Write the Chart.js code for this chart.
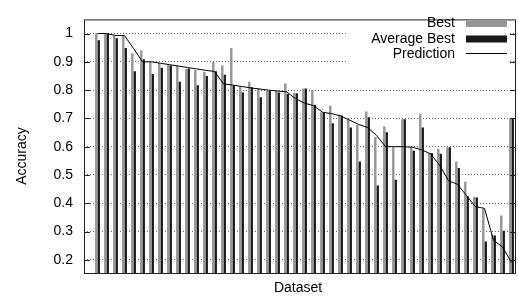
<!DOCTYPE html>
<html>
<head>
<meta charset="utf-8">
<script src="https://cdn.jsdelivr.net/npm/chart.js@4.4.1/dist/chart.umd.min.js"></script>
<style>
  body { margin: 0; background: #fff; }
  #wrap { width: 518px; height: 297px; }
</style>
</head>
<body>
<div id="wrap"><canvas id="myChart" width="518" height="297"></canvas></div>
<script>
// 47 datasets, no names on the x axis
const categories = Array.from({ length: 47 }, (_, i) => 'D' + (i + 1));

const best = [1.0, 1.0, 0.993, 0.993, 0.93, 0.94, 0.90, 0.896, 0.89, 0.887,
    0.875, 0.871, 0.865, 0.899, 0.887, 0.949, 0.813, 0.83, 0.806, 0.797,
    0.80, 0.823, 0.789, 0.806, 0.80, 0.722, 0.745, 0.712, 0.696, 0.677,
    0.724, 0.634, 0.671, 0.598, 0.697, 0.598, 0.715, 0.578, 0.592, 0.598,
    0.548, 0.476, 0.422, 0.38, 0.29, 0.357, 0.70];

const averageBest = [0.976, 1.0, 0.983, 0.949, 0.867, 0.909, 0.857, 0.879, 0.887, 0.83,
    0.876, 0.817, 0.85, 0.867, 0.854, 0.816, 0.792, 0.81, 0.775, 0.797,
    0.792, 0.786, 0.789, 0.806, 0.748, 0.72, 0.683, 0.71, 0.668, 0.548,
    0.704, 0.463, 0.651, 0.483, 0.697, 0.586, 0.668, 0.578, 0.575, 0.598,
    0.525, 0.425, 0.42, 0.265, 0.286, 0.303, 0.70];

const prediction = [1.0, 1.0, 0.993, 0.993, 0.947, 0.90, 0.90, 0.895, 0.89, 0.885,
    0.88, 0.875, 0.87, 0.866, 0.822, 0.818, 0.813, 0.808, 0.804, 0.80,
    0.797, 0.794, 0.77, 0.754, 0.745, 0.722, 0.717, 0.709, 0.694, 0.679,
    0.668, 0.64, 0.60, 0.60, 0.60, 0.598, 0.589, 0.575, 0.535, 0.48,
    0.467, 0.427, 0.388, 0.382, 0.269, 0.246, 0.19];

const yTicks = [0.2, 0.3, 0.4, 0.5, 0.6, 0.7, 0.8, 0.9, 1];
const yTickLabels = ['0.2', '0.3', '0.4', '0.5', '0.6', '0.7', '0.8', '0.9', '1'];

const FONT = '"Liberation Sans", Arial, sans-serif';
const GRAY = 'rgb(150,150,150)';
const BLACK = 'rgb(25,25,25)';

// one empty slot in front, like the gnuplot x range
const labels = [''].concat(categories);
const pad = arr => [null].concat(arr);

// gnuplot style frame, inner ticks, legend and axis titles
const gnuplotLook = {
    id: 'gnuplotLook',
    beforeDatasetsDraw(chart) {
        const c = chart.ctx;
        // legend box hides the grid lines under it
        c.save();
        c.fillStyle = '#fff';
        c.fillRect(347, 12, 163, 50);
        c.restore();
    },
    afterDraw(chart) {
        const c = chart.ctx;
        const a = chart.chartArea;
        const y = chart.scales.y;
        c.save();
        c.strokeStyle = '#222';
        c.lineWidth = 1;
        c.strokeRect(a.left + 0.5, a.top + 0.5, a.right - a.left - 1, a.bottom - a.top - 1);
        yTicks.forEach(v => {
            const py = Math.round(y.getPixelForValue(v)) + 0.5;
            c.beginPath();
            c.moveTo(a.left, py); c.lineTo(a.left + 6, py);
            c.moveTo(a.right - 6, py); c.lineTo(a.right, py);
            c.stroke();
        });

        // legend
        c.font = '14px ' + FONT;
        c.fillStyle = '#000';
        c.textAlign = 'right';
        c.textBaseline = 'middle';
        c.fillText('Best', 455, 23.5);
        c.fillText('Average Best', 455, 39);
        c.fillText('Prediction', 455, 54);
        c.fillStyle = GRAY;
        c.fillRect(466, 20.5, 41, 6.5);
        c.fillStyle = BLACK;
        c.fillRect(466, 35.5, 41, 7);
        c.strokeStyle = '#000';
        c.beginPath();
        c.moveTo(466, 53.5); c.lineTo(507, 53.5);
        c.stroke();

        // axis titles
        c.fillStyle = '#000';
        c.textAlign = 'center';
        c.fillText('Dataset', 298, 288);
        c.translate(22.5, 156);
        c.rotate(-Math.PI / 2);
        c.fillText('Accuracy', 0, 0);
        c.restore();
    }
};

const ctx = document.getElementById('myChart').getContext('2d');
const myChart = new Chart(ctx, {
    data: {
        labels: labels,
        datasets: [
            {
                type: 'line',
                label: 'Prediction',
                data: pad(prediction),
                borderColor: '#000',
                borderWidth: 1,
                pointRadius: 0,
                tension: 0,
                fill: false,
                order: 0
            },
            {
                type: 'bar',
                label: 'Best',
                data: pad(best),
                backgroundColor: GRAY,
                borderWidth: 0,
                categoryPercentage: 0.54,
                barPercentage: 1.0,
                order: 1
            },
            {
                type: 'bar',
                label: 'Average Best',
                data: pad(averageBest),
                backgroundColor: BLACK,
                borderWidth: 0,
                categoryPercentage: 0.54,
                barPercentage: 1.0,
                order: 1
            }
        ]
    },
    options: {
        responsive: false,
        animation: false,
        layout: { padding: { top: 11, right: 2, bottom: 23, left: 0 } },
        scales: {
            x: {
                offset: true,
                grid: { display: false },
                border: { display: false },
                ticks: { display: false },
                afterFit: s => { s.height = 0; }
            },
            y: {
                min: 0.15,
                max: 1.05,
                afterBuildTicks: s => { s.ticks = yTicks.map(v => ({ value: v })); },
                afterFit: s => { s.width = 84; },
                border: { display: false, dash: [1, 2] },
                grid: {
                    color: 'rgba(0,0,0,0.6)',
                    lineWidth: 1,
                    drawTicks: false
                },
                ticks: {
                    padding: 11,
                    color: '#000',
                    font: { family: FONT, size: 14 },
                    callback: (v, i) => yTickLabels[i]
                }
            }
        },
        plugins: {
            legend: { display: false },
            tooltip: { enabled: false }
        }
    },
    plugins: [gnuplotLook]
});
</script>
</body>
</html>
